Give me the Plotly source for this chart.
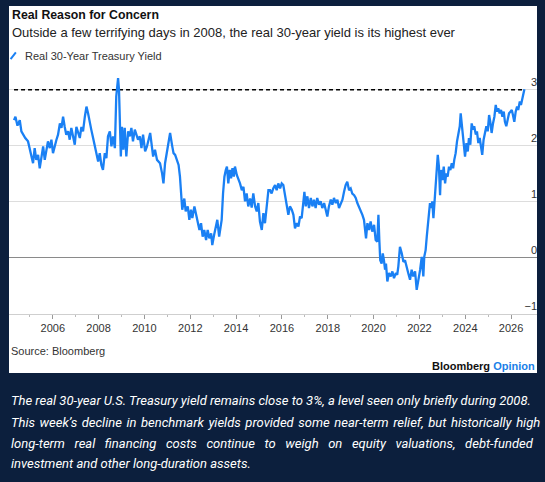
import plotly.graph_objects as go

# Real 30-year Treasury yield (%); x in fractional years
years = [
    2004.31, 2004.37, 2004.46, 2004.56, 2004.63, 2004.70, 2004.80, 2004.92, 2005.00, 2005.07,
    2005.14, 2005.21, 2005.28, 2005.36, 2005.43, 2005.50, 2005.58, 2005.65, 2005.72, 2005.79,
    2005.87, 2005.94, 2006.01, 2006.09, 2006.16, 2006.23, 2006.31, 2006.38, 2006.45, 2006.52,
    2006.59, 2006.67, 2006.74, 2006.81, 2006.89, 2006.96, 2007.03, 2007.10, 2007.18, 2007.25,
    2007.32, 2007.40, 2007.47, 2007.54, 2007.61, 2007.68, 2007.76, 2007.83, 2007.90, 2007.98,
    2008.05, 2008.12, 2008.19, 2008.27, 2008.34, 2008.41, 2008.49, 2008.56, 2008.63, 2008.71,
    2008.77, 2008.85, 2008.89, 2008.94, 2008.97, 2009.02, 2009.08, 2009.14, 2009.21, 2009.29,
    2009.36, 2009.43, 2009.50, 2009.58, 2009.65, 2009.72, 2009.80, 2009.87,
    2009.94, 2010.03, 2010.11, 2010.25, 2010.38, 2010.46, 2010.55, 2010.68, 2010.77, 2010.83,
    2010.90, 2010.99, 2011.07, 2011.12, 2011.21, 2011.27, 2011.34, 2011.42, 2011.49, 2011.55,
    2011.60, 2011.65, 2011.74, 2011.80, 2011.89, 2011.96, 2012.03, 2012.09, 2012.18, 2012.24,
    2012.33, 2012.40, 2012.47, 2012.54, 2012.61, 2012.69, 2012.76, 2012.83, 2012.91, 2012.96,
    2013.04, 2013.11, 2013.18, 2013.26, 2013.33, 2013.37, 2013.43, 2013.49, 2013.55, 2013.60,
    2013.66, 2013.72, 2013.78, 2013.84, 2013.90, 2013.95, 2014.03, 2014.10, 2014.17, 2014.25,
    2014.32, 2014.39, 2014.46, 2014.53, 2014.61, 2014.68, 2014.75, 2014.83, 2014.90, 2014.97,
    2015.04, 2015.12, 2015.19, 2015.26, 2015.34, 2015.41,
    2015.48, 2015.55, 2015.62, 2015.70, 2015.77, 2015.84, 2015.92, 2015.99, 2016.06, 2016.14,
    2016.21, 2016.28, 2016.35, 2016.43, 2016.50, 2016.57, 2016.65, 2016.72, 2016.79, 2016.86,
    2016.93, 2016.98, 2017.04, 2017.11, 2017.18, 2017.26, 2017.33, 2017.40, 2017.47, 2017.54,
    2017.62, 2017.69, 2017.76, 2017.84, 2017.91, 2017.98, 2018.05, 2018.13, 2018.20, 2018.27,
    2018.35, 2018.42, 2018.49, 2018.57, 2018.64, 2018.71, 2018.78, 2018.85, 2018.93, 2019.00,
    2019.07, 2019.15, 2019.22, 2019.29, 2019.36, 2019.44, 2019.51, 2019.58, 2019.63, 2019.67,
    2019.73, 2019.80, 2019.87, 2019.94, 2020.02, 2020.09, 2020.16, 2020.21, 2020.25, 2020.29,
    2020.35, 2020.40, 2020.45, 2020.50, 2020.54, 2020.60, 2020.67, 2020.75, 2020.82, 2020.89,
    2020.97, 2021.03, 2021.08,
    2021.15, 2021.23, 2021.30, 2021.37, 2021.45, 2021.51, 2021.59, 2021.66, 2021.73, 2021.81,
    2021.88, 2021.95, 2022.03, 2022.10, 2022.17, 2022.21, 2022.27, 2022.32, 2022.36, 2022.42,
    2022.46, 2022.51, 2022.56, 2022.61, 2022.65, 2022.71, 2022.75, 2022.80, 2022.85, 2022.90,
    2022.94, 2023.00, 2023.06, 2023.12, 2023.17, 2023.23, 2023.29, 2023.35, 2023.41, 2023.47,
    2023.52, 2023.58, 2023.64, 2023.70, 2023.76, 2023.80, 2023.84, 2023.89, 2023.93, 2023.99,
    2024.05, 2024.11, 2024.16, 2024.22, 2024.28, 2024.34, 2024.39, 2024.46, 2024.51, 2024.57,
    2024.63, 2024.69, 2024.74, 2024.80, 2024.86, 2024.92, 2024.98, 2025.04, 2025.09, 2025.15,
    2025.21, 2025.27, 2025.33, 2025.38, 2025.44, 2025.50, 2025.56, 2025.62, 2025.68, 2025.73,
    2025.79, 2025.85, 2025.91, 2025.97, 2026.03, 2026.08, 2026.14, 2026.20, 2026.26, 2026.31,
    2026.38, 2026.43, 2026.49, 2026.55, 2026.58,
]
yields = [
    2.46, 2.52, 2.36, 2.46, 2.26, 2.20, 2.14, 2.08, 1.93, 1.81,
    1.69, 1.96, 1.75, 1.84, 1.60, 1.78, 1.99, 1.75, 1.90, 2.08,
    1.96, 2.11, 1.87, 2.02, 2.11, 2.20, 2.40, 2.32, 2.52, 2.34,
    2.20, 2.26, 2.11, 2.32, 2.17, 2.02, 2.34, 2.26, 2.14, 2.34,
    2.26, 2.52, 2.70, 2.58, 2.40, 2.29, 2.14, 2.02, 1.87, 1.72,
    1.87, 1.66, 1.57, 1.87, 1.78, 2.17, 2.26, 1.99, 2.17, 1.96,
    2.88, 3.21, 3.00, 2.29, 1.81, 2.34, 1.93, 2.32, 1.81, 2.26,
    2.17, 2.32, 2.08, 2.29, 2.20, 2.11, 2.17, 1.96,
    2.20, 1.90, 1.99, 2.23, 1.81, 1.93, 1.75, 1.69, 1.51, 1.33,
    1.69, 1.93, 2.08, 2.23, 2.00, 1.87, 1.84, 1.75, 1.66, 1.45,
    1.15, 0.86, 1.06, 0.83, 0.92, 0.68, 0.86, 0.71, 0.92, 0.80,
    0.62, 0.50, 0.62, 0.38, 0.50, 0.32, 0.50, 0.35, 0.44, 0.23,
    0.41, 0.56, 0.68, 0.38, 0.59, 0.68, 1.15, 1.45, 1.57, 1.63,
    1.33, 1.57, 1.42, 1.60, 1.45, 1.63, 1.48, 1.42, 1.33, 1.21,
    1.27, 1.01, 1.15, 0.92, 1.06, 0.90, 1.15, 0.92, 0.83, 0.98,
    0.65, 0.50, 0.80, 0.62, 0.90, 1.21,
    1.21, 1.15, 1.24, 1.30, 1.21, 1.33, 1.24, 1.33, 1.30, 1.10,
    0.98, 0.77, 0.92, 0.86, 0.77, 0.53, 0.62, 0.56, 0.74, 0.71,
    0.98, 1.18, 0.92, 1.10, 0.89, 1.07, 0.92, 1.04, 0.89, 1.07,
    0.95, 1.01, 0.89, 0.98, 0.86, 0.74, 0.92, 1.04, 0.95, 1.07,
    0.98, 1.04, 0.89, 0.98, 1.04, 1.18, 1.30, 1.36, 1.21, 1.24,
    1.15, 1.12, 1.07, 0.98, 0.92, 0.83, 0.77, 0.68, 0.50, 0.35,
    0.62, 0.50, 0.65, 0.47, 0.59, 0.32, 0.29, 0.77, 0.32, -0.04,
    -0.10, 0.08, -0.04, -0.21, -0.10, -0.42, -0.27, -0.33, -0.24, -0.36,
    -0.27, -0.30, -0.15,
    0.20, 0.08, -0.07, -0.04, -0.15, -0.27, -0.39, -0.21, -0.33, -0.24,
    -0.57, -0.42, -0.21, 0.02, -0.33, 0.02, 0.14, 0.38, 0.56, 0.74,
    0.98, 0.89, 1.01, 0.71, 0.92, 1.27, 1.57, 1.84, 1.63, 1.12,
    1.57, 1.39, 1.63, 1.33, 1.51, 1.45, 1.63, 1.57, 1.69, 1.60,
    1.75, 1.87, 2.08, 2.23, 2.35, 2.58, 2.40, 2.23, 2.00, 1.81,
    2.05, 1.90, 2.14, 2.02, 2.40, 2.29, 2.35, 2.20, 2.26, 2.05,
    2.14, 2.00, 1.84, 2.11, 2.23, 2.35, 2.26, 2.55, 2.43, 2.23,
    2.40, 2.52, 2.73, 2.61, 2.67, 2.58, 2.64, 2.52, 2.61, 2.43,
    2.35, 2.49, 2.58, 2.61, 2.64, 2.55, 2.43, 2.61, 2.70, 2.64,
    2.79, 2.73, 2.85, 2.97, 3.01,
]
level_2008 = 3.0
y_ticks = [-1, 0, 1, 2, 3]

navy = '#0c1f3d'
blue = '#1a80f4'

fig = go.Figure()

# dashed reference line at the 2008 level
fig.add_trace(go.Scatter(x=[years[0], years[-1]], y=[level_2008, level_2008], mode='lines',
                         line=dict(color='black', width=1.4, dash='4px,3px'),
                         hoverinfo='skip', showlegend=False))

fig.add_trace(go.Scatter(x=years, y=yields, mode='lines', name='Real 30-Year Treasury Yield',
                         line=dict(color=blue, width=2.3), showlegend=False))

# white chart card behind the plot
fig.add_shape(type='rect', xref='paper', yref='paper', x0=0, x1=1, y0=-0.245, y1=1.278,
              fillcolor='white', line=dict(width=0), layer='below')
# legend slash
fig.add_shape(type='line', xref='paper', yref='paper', x0=0.003, x1=0.013, y0=1.058, y1=1.086,
              line=dict(color=blue, width=2))

# caption is justified in the original: widen the word gaps a little
caption = [
    "The real 30-year U.S. Treasury yield remains close to 3%, a level seen only briefly during 2008.",
    "This week\u2019s decline in benchmark yields provided some near-term relief, but historically high".replace(' ', ' \u200a'),
    "long-term real financing costs continue to weigh on equity valuations, debt-funded".replace(' ', '\u00a0\u00a0\u00a0'),
    "investment and other long-duration assets.",
]
caption_y = [-0.360, -0.451, -0.537, -0.622]

annotations = [
    dict(text='Real Reason for Concern', x=0.002, y=1.241,
         font=dict(family='Arial', size=12.3, weight='bold', color='#111111')),
    dict(text='Outside a few terrifying days in 2008, the real 30-year yield is its highest ever',
         x=0.002, y=1.166, font=dict(size=13, color='#222222')),
    dict(text='Real 30-Year Treasury Yield', x=0.027, y=1.072, font=dict(size=11, color='#333333')),
    dict(text='Source: Bloomberg', x=0.0, y=-0.154, font=dict(size=11, color='#333333')),
    dict(text="Bloomberg <span style='color:#1a7fe8'>Opinion</span>", x=1.0, y=-0.215,
         xanchor='right', font=dict(family='Arial', size=11, weight='bold', color='#111111')),
]
for line, cy in zip(caption, caption_y):
    annotations.append(dict(text='<i>' + line + '</i>', x=0.0, y=cy,
                            font=dict(family='Roboto', size=13, color='white')))

for a in annotations:
    a.setdefault('xanchor', 'left')
    a.update(xref='paper', yref='paper', yanchor='middle', showarrow=False)

fig.update_layout(
    width=545, height=482,
    margin=dict(l=9, r=8, t=73, b=168),
    paper_bgcolor=navy,
    plot_bgcolor='white',
    font=dict(family='Liberation Sans, Arial, sans-serif', color='#333333'),
    annotations=annotations,
    showlegend=False,
)

fig.update_xaxes(
    range=[2004.09, 2027.13],
    tick0=2006, dtick=2, tickformat='d',
    showgrid=False, zeroline=False,
    showline=True, linecolor='#cfcfcf', linewidth=1,
    ticks='outside', ticklen=4, tickcolor='#999999',
    tickfont=dict(size=11, color='#333333'),
    minor=dict(dtick=1, ticks='outside', ticklen=2, tickcolor='#bbbbbb', showgrid=False),
)

fig.update_yaxes(
    range=[-1, 3.3],
    tickvals=y_ticks,
    side='right', ticklabelposition='inside top', ticklabelstandoff=-3,
    showgrid=True, gridcolor='#dddddd', gridwidth=1,
    zeroline=True, zerolinecolor='#8a8a8a', zerolinewidth=1.2,
    showline=False,
    tickfont=dict(size=11, color='#333333'),
)

# drop the browser's default page margin so the figure fills the window
fig.write_html('out.html', config={'displayModeBar': False},
               post_script="document.body.style.margin='0';")
